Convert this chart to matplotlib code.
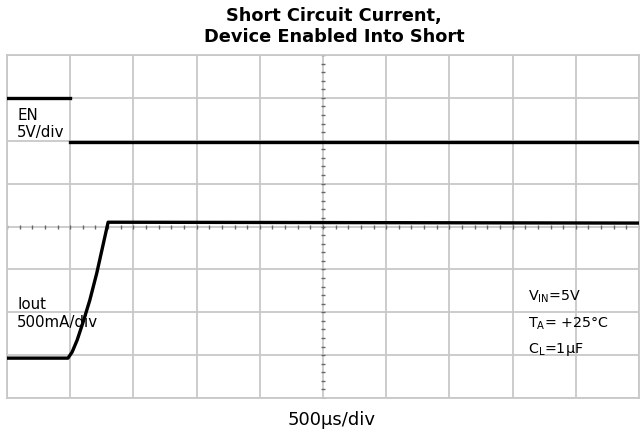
import matplotlib
matplotlib.use("Agg")
import matplotlib.pyplot as plt
import numpy as np

plt.rcParams['font.family'] = ['DejaVu Sans']
plt.rcParams['mathtext.fontset'] = 'dejavusans'

# Data in screen divisions (x: 0..10, y: 0..8 from bottom)
en_x = [0.0, 1.0, np.nan, 1.0, 10.0]
en_y = [7.0, 7.0, np.nan, 5.98, 5.98]

iout_x = [0.0, 0.965, 1.03, 1.11, 1.20, 1.31, 1.42, 1.52, 1.60, 10.0]
iout_y = [0.93, 0.93, 1.07, 1.35, 1.75, 2.28, 2.91, 3.57, 4.10, 4.08]

title_lines = ["Short Circuit Current,", "Device Enabled Into Short"]
xlabel = "500\u00b5s/div"

fig = plt.figure(figsize=(6.41, 4.33), dpi=100)
ax = fig.add_axes([0.0109, 0.0808, 0.9860, 0.7922])
ax.set_xlim(0, 10)
ax.set_ylim(0, 8)

grid_c = '#c8c8c8'
for gx in range(0, 11):
    ax.axvline(gx, color=grid_c, lw=1.3, zorder=1)
for gy in range(0, 9):
    ax.axhline(gy, color=grid_c, lw=1.3, zorder=1)

# center graticule minor ticks
mx = np.arange(0, 10.001, 0.2)
my = np.arange(0, 8.001, 0.2)
ax.plot(mx, np.full_like(mx, 4.0), ls='none', marker='|', ms=2.5, mew=1.0, color='#666666', zorder=2)
ax.plot(np.full_like(my, 5.0), my, ls='none', marker='_', ms=2.5, mew=1.0, color='#666666', zorder=2)

ax.plot(en_x, en_y, color='black', lw=2.4, zorder=3)
ax.plot(iout_x, iout_y, color='black', lw=2.4, zorder=3)

for s in ax.spines.values():
    s.set_color(grid_c)
    s.set_linewidth(1.3)
ax.set_xticks([])
ax.set_yticks([])

fs = 10.8
ax.text(0.16, 6.48, "EN", fontsize=fs, va='baseline', ha='left')
ax.text(0.16, 6.08, "5V/div", fontsize=fs, va='baseline', ha='left')
ax.text(0.16, 2.07, "Iout", fontsize=fs, va='baseline', ha='left')
ax.text(0.16, 1.65, "500mA/div", fontsize=fs, va='baseline', ha='left')

fs2 = 10.3
ax.text(8.24, 2.27, r"V$_{\mathregular{IN}}$=5V", fontsize=fs2, va='baseline', ha='left')
ax.text(8.24, 1.65, r"T$_{\mathregular{A}}$= +25°C", fontsize=fs2, va='baseline', ha='left')
ax.text(8.24, 1.05, r"C$_{\mathregular{L}}$=1µF", fontsize=fs2, va='baseline', ha='left')

fig.text(0.521, 1 - 21 / 433, title_lines[0], fontsize=12.8, fontweight='bold', ha='center', va='baseline')
fig.text(0.521, 1 - 42 / 433, title_lines[1], fontsize=12.8, fontweight='bold', ha='center', va='baseline')
fig.text(0.517, 1 - 425 / 433, xlabel, fontsize=13, ha='center', va='baseline')

fig.savefig("out.png", dpi=100)
